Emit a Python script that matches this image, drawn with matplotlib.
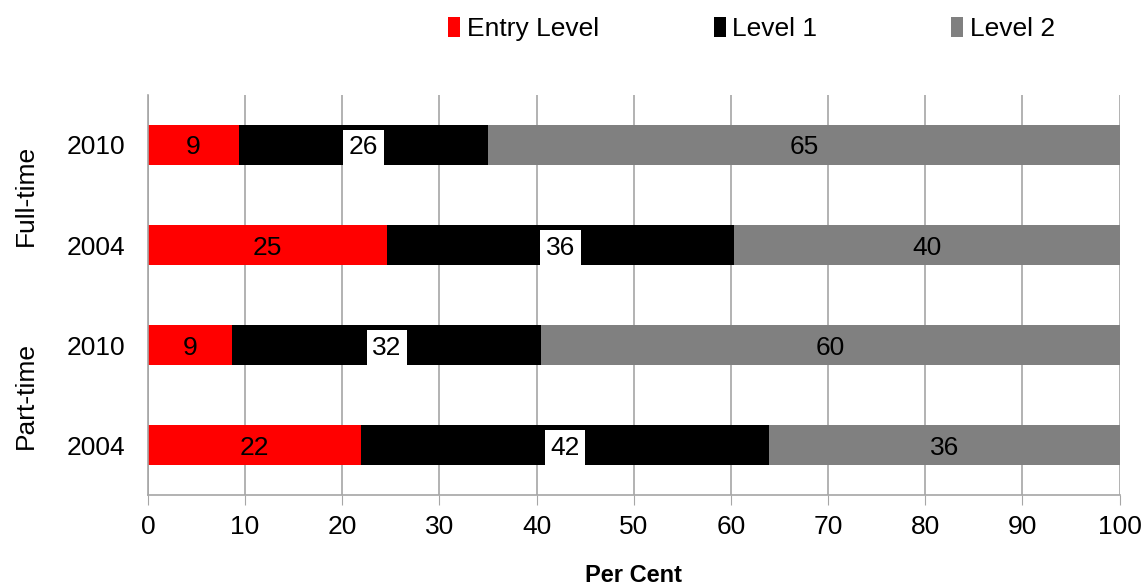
import matplotlib
matplotlib.use("Agg")
from matplotlib import pyplot as plt
from matplotlib.patches import Patch
import numpy as np

plt.rcParams['font.family'] = ['Liberation Sans', 'DejaVu Sans']

# rows from bottom to top
years = ["2004", "2010", "2004", "2010"]
groups = ["Part-time", "Full-time"]
series = ["Entry Level", "Level 1", "Level 2"]
entry = [21.9, 8.7, 24.6, 9.4]
level1 = [42.0, 31.8, 35.7, 25.6]
level2 = [36.1, 59.5, 39.7, 65.0]
colors = ["#FF0000", "#000000", "#808080"]


def main():
    fig = plt.figure(figsize=(11.46, 5.86), dpi=100)
    ax = fig.add_axes([0.129, 0.155, 0.848, 0.683])
    y = np.arange(len(years))
    left = np.zeros(len(years))
    for name, vals, c in zip(series, [entry, level1, level2], colors):
        vals = np.array(vals)
        ax.barh(y, vals, left=left, height=0.4, color=c, label=name, zorder=2)
        for yi, l, v in zip(y, left, vals):
            kw = {}
            if name == "Level 1":
                kw['bbox'] = dict(facecolor='white', edgecolor='none', pad=4)
            ax.text(l + v / 2, yi, "%d" % round(v), ha='center', va='center_baseline',
                    fontsize=19, color='black', zorder=3, **kw)
        left = left + vals

    ax.set_xlim(0, 100)
    ax.set_ylim(-0.5, 3.5)
    ax.set_xticks(np.arange(0, 101, 10))
    ax.set_yticks(y)
    ax.set_yticklabels(years)
    ax.tick_params(axis='x', length=7, color='#A6A6A6', labelsize=19, pad=7)
    ax.tick_params(axis='y', length=0, labelsize=19, pad=16)
    ax.grid(axis='x', color='#A6A6A6', linewidth=1.2, zorder=0)
    for s in ['top', 'right']:
        ax.spines[s].set_visible(False)
    for s in ['left', 'bottom']:
        ax.spines[s].set_color('#A6A6A6')
        ax.spines[s].set_linewidth(1.2)
    ax.set_xlabel("Per Cent", fontsize=17, fontweight='bold', labelpad=18)

    # group labels
    for i, g in enumerate(groups):
        ax.text(-0.125, 0.25 + 0.5 * i, g, transform=ax.transAxes, rotation=90,
                ha='center', va='center', fontsize=19)

    # legend entries sit at fixed slots like the original
    slots = [0.391, 0.623, 0.830]
    for n, c, x in zip(series, colors, slots):
        h = Patch(facecolor=c, edgecolor='none', label=n)
        fig.legend(handles=[h], loc='center left', bbox_to_anchor=(x, 0.950),
                   frameon=False, fontsize=19, handlelength=0.45, handleheight=0.75,
                   handletextpad=0.25, borderpad=0, borderaxespad=0)

    plt.savefig("out.png", dpi=100)


if __name__ == "__main__":
    main()
